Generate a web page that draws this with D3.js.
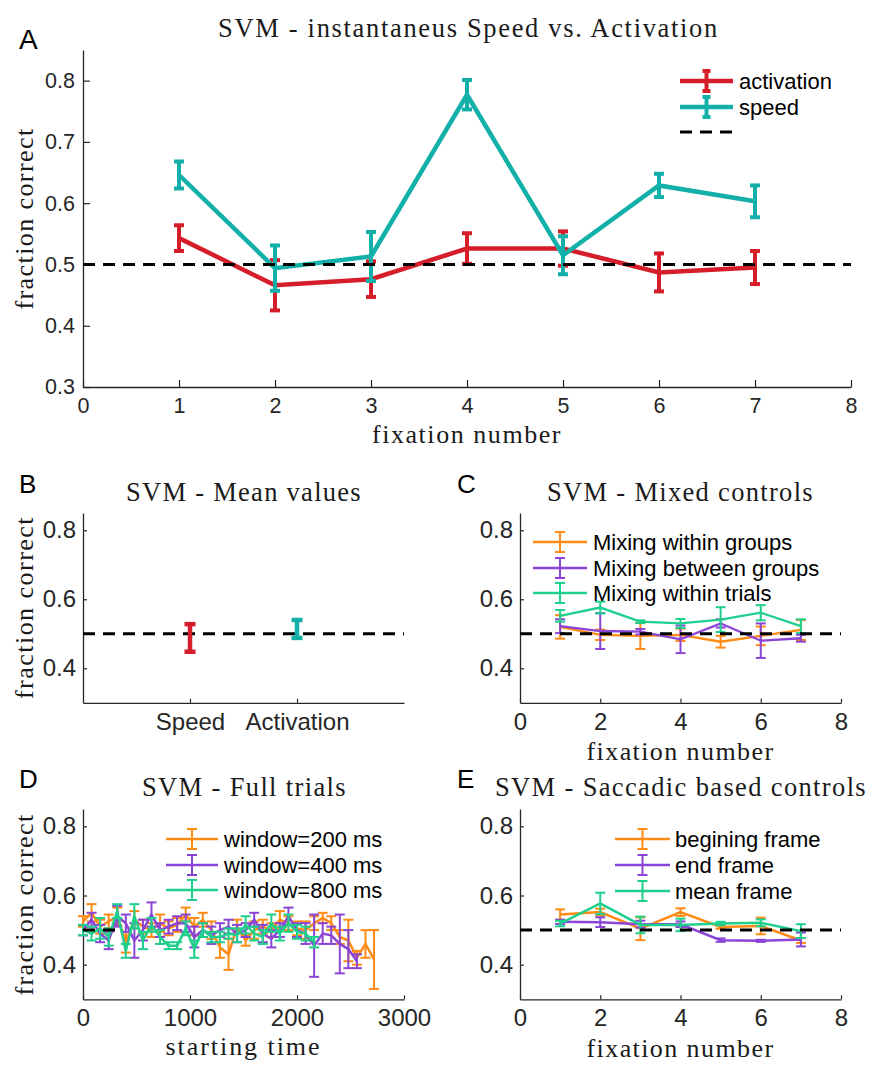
<!DOCTYPE html>
<html><head><meta charset="utf-8">
<script src="https://cdn.jsdelivr.net/npm/d3@7"></script>
<style>
body{margin:0;background:#fff}
text.sans{font-family:"Liberation Sans",Arial,Helvetica,sans-serif}
text.serif{font-family:"Liberation Serif","Times New Roman",serif}
</style></head><body><svg id="fig" width="874" height="1076"></svg>
<script>
// ---------------- DATA ----------------
const fixations = [1, 2, 3, 4, 5, 6, 7];
const fixTicks = [0, 1, 2, 3, 4, 5, 6, 7, 8];
const fixTicksEven = [0, 2, 4, 6, 8];
const yTicksA = [0.3, 0.4, 0.5, 0.6, 0.7, 0.8];
const yTicksSmall = [0.4, 0.6, 0.8];
const chance = 0.5;

// Panel A
const aActivation    = [0.543, 0.466, 0.476, 0.526, 0.526, 0.487, 0.495];
const aActivationErr = [0.021, 0.041, 0.029, 0.025, 0.028, 0.031, 0.027];
const aSpeed         = [0.646, 0.494, 0.513, 0.777, 0.515, 0.629, 0.603];
const aSpeedErr      = [0.022, 0.037, 0.040, 0.024, 0.031, 0.019, 0.026];

// Panel B
const bCategories = ["Speed", "Activation"];
const bValues     = [0.488, 0.514];
const bErrors     = [0.040, 0.026];

// Panel C
const cWithinGroups     = [0.520, 0.497, 0.494, 0.497, 0.477, 0.494, 0.511];
const cWithinGroupsErr  = [0.034, 0.015, 0.038, 0.018, 0.017, 0.027, 0.029];
const cBetweenGroups    = [0.522, 0.508, 0.506, 0.484, 0.530, 0.480, 0.487];
const cBetweenGroupsErr = [0.020, 0.052, 0.008, 0.040, 0.012, 0.050, 0.010];
const cWithinTrials     = [0.552, 0.576, 0.535, 0.530, 0.541, 0.561, 0.522];
const cWithinTrialsErr  = [0.017, 0.017, 0.004, 0.013, 0.036, 0.022, 0.020];

// Panel D
const dStartTimes = [0, 80, 160, 240, 320, 400, 480, 560, 640, 720, 800, 880, 960, 1040, 1120, 1200,
  1280, 1360, 1440, 1520, 1600, 1680, 1760, 1840, 1920, 2000, 2080, 2160, 2240, 2320, 2400, 2480,
  2560, 2640, 2720];
const dTimeTicks = [0, 1000, 2000, 3000];
const dWin200    = [0.525,0.550,0.510,0.525,0.540,0.465,0.530,0.510,0.500,0.520,0.505,0.515,0.545,0.510,0.530,0.500,
  0.450,0.430,0.510,0.470,0.500,0.510,0.500,0.530,0.520,0.505,0.500,0.520,0.535,0.520,0.480,0.470,0.420,0.460,0.415];
const dWin200Err = [0.015,0.025,0.020,0.020,0.025,0.030,0.025,0.020,0.020,0.025,0.020,0.020,0.020,0.025,0.020,0.025,
  0.030,0.045,0.020,0.015,0.025,0.020,0.020,0.025,0.020,0.020,0.025,0.020,0.015,0.020,0.020,0.060,0.020,0.040,0.085];
const dWin400    = [0.500,0.530,0.490,0.470,0.540,0.520,0.470,0.500,0.545,0.500,0.510,0.520,0.520,0.480,0.500,0.485,
  0.500,0.510,0.490,0.500,0.530,0.490,0.475,0.500,0.540,0.500,0.490,0.455,0.490,0.485,0.460,0.445,0.410];
const dWin400Err = [0.015,0.020,0.025,0.025,0.030,0.025,0.050,0.030,0.035,0.020,0.020,0.020,0.025,0.030,0.020,0.025,
  0.020,0.020,0.025,0.020,0.020,0.025,0.025,0.020,0.025,0.020,0.030,0.090,0.030,0.025,0.085,0.055,0.020];
const dWin800    = [0.500,0.490,0.505,0.480,0.555,0.440,0.540,0.470,0.515,0.480,0.455,0.455,0.505,0.445,0.500,0.480,
  0.480,0.490,0.485,0.515,0.490,0.480,0.520,0.490,0.520,0.495,0.490,0.465];
const dWin800Err = [0.015,0.020,0.030,0.025,0.020,0.020,0.035,0.025,0.020,0.020,0.010,0.010,0.020,0.025,0.020,0.015,
  0.015,0.015,0.020,0.025,0.020,0.020,0.025,0.020,0.025,0.020,0.020,0.015];
const dChanceSpan = [0, 300];

// Panel E
const eBegin    = [0.545, 0.552, 0.504, 0.552, 0.509, 0.512, 0.470];
const eBeginErr = [0.015, 0.010, 0.033, 0.011, 0.005, 0.024, 0.007];
const eEnd      = [0.524, 0.523, 0.517, 0.517, 0.471, 0.469, 0.473];
const eEndErr   = [0.006, 0.014, 0.010, 0.008, 0.005, 0.003, 0.020];
const eMean     = [0.519, 0.577, 0.515, 0.515, 0.519, 0.521, 0.497];
const eMeanErr  = [0.008, 0.031, 0.024, 0.018, 0.005, 0.010, 0.020];

// ---------------- STYLE ----------------
const RED = "#d61e2b", TEAL = "#12b0a8", ORANGE = "#ff8a14", PURPLE = "#8b45d6", GREEN = "#1fcf8c";
const AXIS = "#262626";

const svg = d3.select("#fig");
svg.append("rect").attr("width", 874).attr("height", 1076).attr("fill", "#fff");

// keep the font size, spread letters so the text spans the reference width
function fitSpacing(t, w) {
  const str = t.text();
  const cur = t.node().getComputedTextLength();
  if (cur >= w) {
    const fs = parseFloat(t.attr("font-size"));
    t.attr("font-size", (fs * w / cur).toFixed(2));
  } else {
    t.attr("letter-spacing", ((w - cur) / str.length).toFixed(2));
  }
}

function makeAxes(o) {
  const x = d3.scaleLinear().domain(o.xDomain).range([o.left, o.right]);
  const y = d3.scaleLinear().domain(o.yDomain).range([o.bottom, o.top]);
  const g = svg.append("g");
  const gx = g.append("g").attr("transform", `translate(0,${o.bottom})`)
    .call(d3.axisBottom(x).tickValues(o.xTicks).tickSizeInner(-o.tickLen).tickSizeOuter(0)
      .tickPadding(o.xPad).tickFormat(o.xFormat));
  const gy = g.append("g").attr("transform", `translate(${o.left},0)`)
    .call(d3.axisLeft(y).tickValues(o.yTicks).tickSizeInner(-o.tickLen).tickSizeOuter(0)
      .tickPadding(o.yPad).tickFormat(d3.format(".1f")));
  [gx, gy].forEach(a => {
    a.attr("font-family", null).attr("font-size", null);
    a.select(".domain").attr("stroke", AXIS).attr("stroke-width", 1.3);
    a.selectAll(".tick line").attr("stroke", AXIS).attr("stroke-width", 1.2);
    a.selectAll(".tick text").attr("class", "sans").attr("fill", AXIS).attr("font-size", o.fontSize);
  });
  const plot = svg.append("g");
  return {x, y, plot};
}

function errorSeries(ax, xs, vals, errs, color, lw, ew, capW, drawLine) {
  const pts = vals.map((v, i) => ({x: xs[i], v, e: errs[i]}));
  const g = ax.plot.append("g");
  if (drawLine) {
    g.append("path").datum(pts)
      .attr("d", d3.line().x(d => ax.x(d.x)).y(d => ax.y(d.v)))
      .attr("fill", "none").attr("stroke", color).attr("stroke-width", lw)
      .attr("stroke-linejoin", "miter").attr("stroke-miterlimit", 3);
  }
  const eb = g.selectAll("g.eb").data(pts).join("g");
  eb.append("line")
    .attr("x1", d => ax.x(d.x)).attr("x2", d => ax.x(d.x))
    .attr("y1", d => ax.y(d.v - d.e)).attr("y2", d => ax.y(d.v + d.e))
    .attr("stroke", color).attr("stroke-width", ew);
  [-1, 1].forEach(s => {
    eb.append("line")
      .attr("x1", d => ax.x(d.x) - capW / 2).attr("x2", d => ax.x(d.x) + capW / 2)
      .attr("y1", d => ax.y(d.v + s * d.e)).attr("y2", d => ax.y(d.v + s * d.e))
      .attr("stroke", color).attr("stroke-width", ew);
  });
}

function chanceLine(ax, span, lw) {
  ax.plot.append("line")
    .attr("x1", ax.x(span[0])).attr("x2", ax.x(span[1]))
    .attr("y1", ax.y(chance)).attr("y2", ax.y(chance))
    .attr("stroke", "#000").attr("stroke-width", lw).attr("stroke-dasharray", "12,8");
}

function legend(entries, x0, x1, tx, ys, lw, ew, capW, barH, fs) {
  const g = svg.append("g");
  entries.forEach((en, i) => {
    const y = ys[i];
    if (en.dashed) {
      g.append("line").attr("x1", x0).attr("x2", x1).attr("y1", y).attr("y2", y)
        .attr("stroke", "#000").attr("stroke-width", 3).attr("stroke-dasharray", "12,8");
    } else {
      const xm = (x0 + x1) / 2;
      g.append("line").attr("x1", x0).attr("x2", x1).attr("y1", y).attr("y2", y)
        .attr("stroke", en.color).attr("stroke-width", lw);
      g.append("line").attr("x1", xm).attr("x2", xm).attr("y1", y - barH).attr("y2", y + barH)
        .attr("stroke", en.color).attr("stroke-width", ew);
      [-1, 1].forEach(s => g.append("line").attr("x1", xm - capW / 2).attr("x2", xm + capW / 2)
        .attr("y1", y + s * barH).attr("y2", y + s * barH).attr("stroke", en.color).attr("stroke-width", ew));
    }
    if (en.label) {
      g.append("text").attr("class", "sans").attr("x", tx).attr("y", y).attr("dy", "0.36em")
        .attr("font-size", fs).attr("fill", "#000").text(en.label);
    }
  });
}

function serifText(x, y, str, w, fs, rotate) {
  const t = svg.append("text").attr("class", "serif").attr("font-size", fs)
    .attr("text-anchor", "middle").attr("fill", "#1a1a1a").text(str);
  if (rotate) t.attr("transform", `translate(${x},${y}) rotate(-90)`);
  else t.attr("x", x).attr("y", y);
  fitSpacing(t, w);
  return t;
}

function panelLabel(x, y, s, fs) {
  svg.append("text").attr("class", "sans").attr("x", x).attr("y", y).attr("font-size", fs)
    .attr("fill", "#000").text(s);
}

const TS = 26.5; // title size
const LS = 26;   // axis label size

// ---------------- PANEL A ----------------
const A = makeAxes({left: 83, right: 851, top: 50, bottom: 387, xDomain: [0, 8], yDomain: [0.3, 0.85],
  xTicks: fixTicks, yTicks: yTicksA, xFormat: d3.format("d"), tickLen: 7, xPad: 11, yPad: 8, fontSize: 21.5});
errorSeries(A, fixations, aActivation, aActivationErr, RED, 4.5, 4, 10, true);
errorSeries(A, fixations, aSpeed, aSpeedErr, TEAL, 4.5, 4, 10, true);
chanceLine(A, [0, 8], 3);
legend([{color: RED, label: "activation"}, {color: TEAL, label: "speed"}, {dashed: true}],
  680, 733, 739, [81, 107, 132], 4.5, 4, 8, 10, 22);
panelLabel(19, 49, "A", 28);
serifText(468.5, 37, "SVM - instantaneus Speed vs. Activation", 501, TS);
serifText(33, 218.5, "fraction correct", 182, LS, true);
serifText(467, 443, "fixation number", 190, LS);

// ---------------- PANEL B ----------------
const B = makeAxes({left: 83, right: 404, top: 513, bottom: 702.8, xDomain: [0, 3], yDomain: [0.3, 0.85],
  xTicks: [1, 2], yTicks: yTicksSmall, xFormat: d => bCategories[d - 1], tickLen: 4, xPad: 10, yPad: 7, fontSize: 24});
chanceLine(B, [0, 3], 3);
errorSeries(B, [1], [bValues[0]], [bErrors[0]], RED, 0, 4.5, 11, false);
errorSeries(B, [2], [bValues[1]], [bErrors[1]], TEAL, 0, 4.5, 11, false);
panelLabel(19, 493, "B", 26);
serifText(244, 501, "SVM - Mean values", 236, TS);
serifText(33, 607.5, "fraction correct", 183, LS, true);

// ---------------- PANEL C ----------------
const C = makeAxes({left: 520, right: 841, top: 513, bottom: 702.8, xDomain: [0, 8], yDomain: [0.3, 0.85],
  xTicks: fixTicksEven, yTicks: yTicksSmall, xFormat: d3.format("d"), tickLen: 4, xPad: 10, yPad: 7, fontSize: 24});
errorSeries(C, fixations, cWithinGroups, cWithinGroupsErr, ORANGE, 2.3, 2, 10, true);
errorSeries(C, fixations, cBetweenGroups, cBetweenGroupsErr, PURPLE, 2.3, 2, 10, true);
errorSeries(C, fixations, cWithinTrials, cWithinTrialsErr, GREEN, 2.3, 2, 10, true);
chanceLine(C, [0, 8], 3);
legend([{color: ORANGE, label: "Mixing within groups"}, {color: PURPLE, label: "Mixing between groups"},
  {color: GREEN, label: "Mixing within trials"}], 533, 587, 593, [542, 568, 593], 2.3, 2, 10, 10, 22);
panelLabel(457, 493, "C", 26);
serifText(680.5, 501, "SVM - Mixed controls", 267, TS);
serifText(680.5, 760, "fixation number", 188, LS);

// ---------------- PANEL D ----------------
const D = makeAxes({left: 83, right: 404, top: 809, bottom: 999.3, xDomain: [0, 3000], yDomain: [0.3, 0.85],
  xTicks: dTimeTicks, yTicks: yTicksSmall, xFormat: d3.format("d"), tickLen: 4, xPad: 10, yPad: 7, fontSize: 24});
errorSeries(D, dStartTimes, dWin200, dWin200Err, ORANGE, 2.5, 2, 10, true);
errorSeries(D, dStartTimes, dWin400, dWin400Err, PURPLE, 2.5, 2, 10, true);
errorSeries(D, dStartTimes, dWin800, dWin800Err, GREEN, 2.5, 2, 10, true);
chanceLine(D, dChanceSpan, 3);
legend([{color: ORANGE, label: "window=200 ms"}, {color: PURPLE, label: "window=400 ms"},
  {color: GREEN, label: "window=800 ms"}], 166, 218, 224, [839, 865, 890], 2.5, 2, 10, 10, 22);
panelLabel(19, 788, "D", 26);
serifText(244.5, 796, "SVM - Full trials", 205, TS);
serifText(33, 904.5, "fraction correct", 182, LS, true);
serifText(243.5, 1055, "starting time", 156, LS);

// ---------------- PANEL E ----------------
const E = makeAxes({left: 520, right: 841, top: 809, bottom: 999.3, xDomain: [0, 8], yDomain: [0.3, 0.85],
  xTicks: fixTicksEven, yTicks: yTicksSmall, xFormat: d3.format("d"), tickLen: 4, xPad: 10, yPad: 7, fontSize: 24});
errorSeries(E, fixations, eBegin, eBeginErr, ORANGE, 2.5, 2, 10, true);
errorSeries(E, fixations, eEnd, eEndErr, PURPLE, 2.5, 2, 10, true);
errorSeries(E, fixations, eMean, eMeanErr, GREEN, 2.5, 2, 10, true);
chanceLine(E, [0, 8], 3);
legend([{color: ORANGE, label: "begining frame"}, {color: PURPLE, label: "end frame"},
  {color: GREEN, label: "mean frame"}], 615, 670, 675, [839, 865, 891], 2.5, 2, 10, 10, 22);
panelLabel(457, 788, "E", 26);
serifText(681, 796, "SVM - Saccadic based controls", 372, TS);
serifText(680.5, 1057, "fixation number", 188, LS);
</script></body></html>
